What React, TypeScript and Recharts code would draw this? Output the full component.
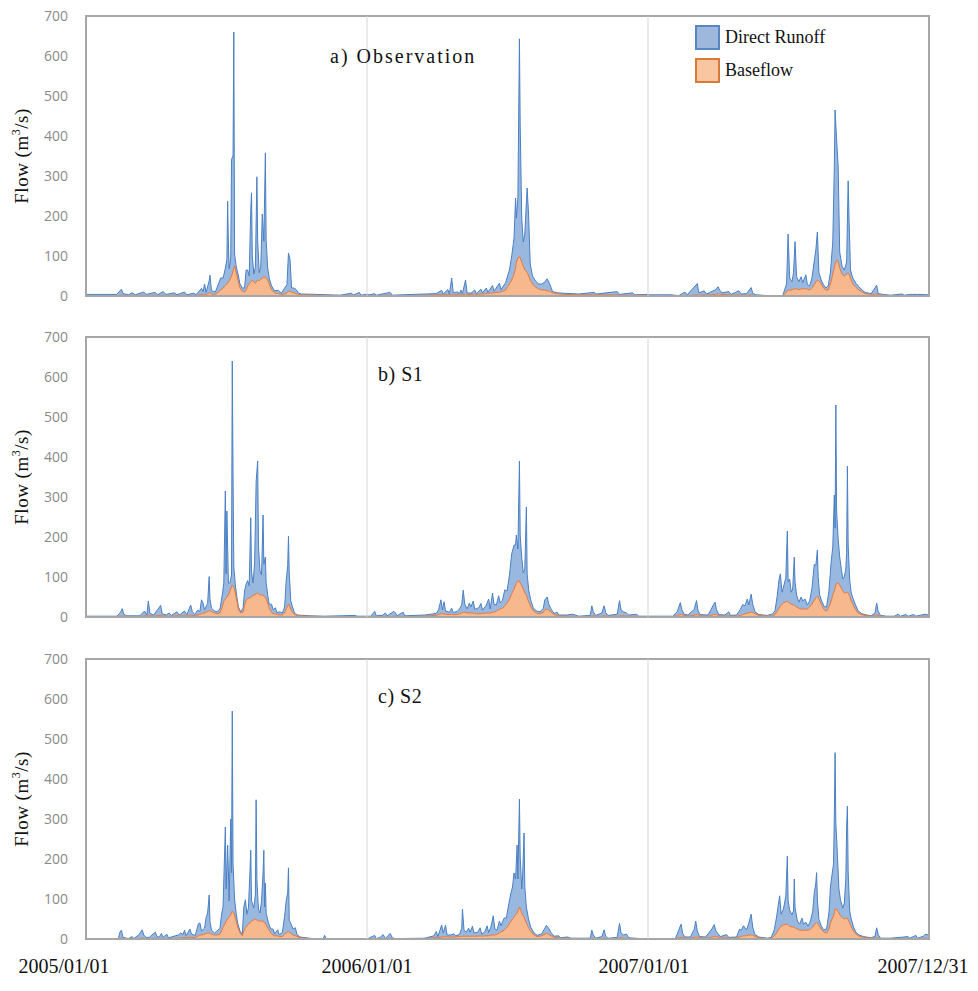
import React from 'react';
import { AreaChart, Area, XAxis, YAxis, ReferenceLine, ReferenceArea, Legend } from 'recharts';

const yearTicks = [0, 365, 730, 1095];
const dateLabels = ['2005/01/01', '2006/01/01', '2007/01/01', '2007/12/31'];
const flowTicks = [0, 100, 200, 300, 400, 500, 600, 700];
const panelTitles = ['a) Observation', 'b) S1', 'c) S2'];

// rows: [day since 2005/01/01, direct runoff, baseflow] in m3/s
const obsRows = [
  [0, 3, 1], [40, 3, 1], [46, 15, 2], [48, 4, 2], [55, 2, 1], [60, 6, 2], [64, 2, 1], [75, 8, 2], [78, 3, 1],
  [90, 7, 2], [93, 2, 1], [100, 9, 2], [104, 3, 1], [115, 6, 2], [118, 2, 1], [128, 8, 2], [131, 2, 1],
  [140, 6, 1], [143, 2, 1], [150, 15, 4], [152, 8, 3], [154, 25, 5], [156, 6, 3], [160, 30, 8], [161, 44, 8],
  [163, 8, 5], [168, 6, 4], [172, 20, 10], [175, 30, 15], [178, 25, 20], [180, 35, 25], [183, 60, 30],
  [184, 205, 32], [185, 90, 35], [186, 30, 38], [188, 50, 45], [189, 290, 50], [191, 290, 62], [192, 590, 70],
  [193, 30, 75], [195, 15, 60], [198, 15, 35], [200, 10, 20], [203, 8, 12], [206, 10, 10], [208, 50, 15],
  [210, 40, 25], [212, 20, 30], [214, 180, 35], [215, 220, 38], [216, 60, 40], [218, 20, 35], [220, 40, 32],
  [222, 260, 38], [223, 100, 40], [225, 20, 38], [227, 30, 42], [229, 160, 45], [231, 90, 47], [233, 310, 48],
  [234, 95, 45], [236, 30, 40], [238, 15, 30], [241, 10, 15], [245, 5, 8], [250, 8, 6], [254, 3, 4],
  [258, 15, 5], [261, 20, 8], [263, 95, 12], [265, 80, 12], [267, 10, 10], [270, 12, 8], [273, 10, 6],
  [276, 3, 4], [280, 2, 3], [300, 2, 2], [330, 1, 1], [345, 5, 2], [347, 1, 1], [355, 8, 1], [357, 1, 1],
  [364, 3, 1],
  [368, 2, 1], [375, 5, 1], [377, 1, 1], [395, 7, 2], [398, 1, 1], [410, 2, 1], [440, 3, 2], [455, 3, 3],
  [462, 10, 4], [464, 2, 3], [470, 12, 4], [472, 2, 3], [475, 40, 5], [477, 5, 4], [483, 6, 4], [485, 2, 4],
  [487, 10, 5], [489, 2, 4], [493, 35, 5], [495, 4, 4], [500, 3, 4], [505, 10, 5], [507, 2, 4], [513, 12, 5],
  [515, 3, 5], [520, 14, 6], [522, 3, 6], [528, 18, 8], [530, 4, 8], [537, 22, 10], [539, 6, 10], [545, 18, 15],
  [550, 35, 30], [553, 60, 40], [556, 90, 55], [558, 175, 70], [559, 110, 85], [561, 150, 95], [563, 545, 98],
  [564, 330, 95], [566, 110, 85], [568, 60, 75], [570, 90, 65], [573, 210, 60], [575, 150, 50], [577, 40, 40],
  [580, 20, 30], [584, 15, 22], [588, 12, 18], [592, 15, 15], [596, 20, 15], [599, 30, 13], [602, 20, 12],
  [606, 3, 8], [612, 2, 6], [620, 3, 4], [640, 2, 3], [660, 6, 3], [663, 2, 3], [690, 8, 3], [693, 2, 2],
  [710, 6, 2], [713, 1, 2], [729, 2, 2],
  [731, 2, 1], [760, 2, 1], [770, 1, 0], [778, 8, 2], [781, 2, 1], [794, 28, 3], [796, 6, 2], [803, 10, 3],
  [806, 3, 2], [818, 12, 4], [821, 18, 5], [823, 10, 5], [826, 4, 4], [835, 8, 3], [838, 2, 2], [848, 10, 3],
  [851, 3, 2], [858, 4, 2], [864, 18, 3], [866, 5, 2], [870, 2, 1], [885, 1, 0], [905, 1, 0], [910, 20, 10],
  [912, 140, 15], [914, 30, 15], [917, 20, 15], [919, 40, 18], [921, 118, 18], [923, 30, 18], [926, 20, 16],
  [929, 30, 18], [931, 15, 18], [935, 35, 18], [937, 12, 17], [940, 10, 15], [943, 25, 20], [946, 60, 28],
  [948, 80, 35], [950, 120, 40], [952, 20, 38], [955, 10, 30], [958, 8, 20], [961, 5, 15], [964, 10, 15],
  [967, 30, 30], [970, 80, 55], [972, 250, 70], [973, 385, 80], [975, 300, 90], [977, 240, 85], [979, 40, 70],
  [982, 20, 55], [985, 15, 50], [988, 30, 55], [990, 230, 58], [991, 150, 55], [993, 20, 45], [996, 15, 30],
  [1000, 10, 22], [1004, 8, 15], [1008, 5, 10], [1012, 3, 6], [1020, 2, 4], [1027, 22, 5], [1029, 3, 3],
  [1035, 2, 2], [1045, 1, 1], [1060, 4, 1], [1063, 1, 1], [1070, 3, 1], [1080, 3, 1], [1094, 2, 1],
];

const s1Rows = [
  [0, 1, 1], [40, 1, 1], [45, 10, 2], [47, 18, 3], [49, 5, 2], [53, 2, 1], [70, 2, 1], [76, 12, 3], [79, 3, 2],
  [81, 36, 4], [83, 6, 3], [88, 3, 2], [97, 25, 4], [99, 5, 3], [104, 3, 2], [108, 8, 2], [111, 2, 2],
  [118, 10, 3], [121, 3, 2], [128, 12, 3], [131, 4, 2], [136, 25, 5], [138, 10, 4], [141, 3, 3], [145, 12, 5],
  [148, 8, 6], [150, 35, 8], [152, 25, 10], [154, 8, 10], [158, 20, 14], [160, 85, 16], [161, 30, 16],
  [163, 8, 14], [167, 5, 10], [170, 5, 8], [174, 10, 10], [177, 30, 25], [179, 45, 40], [181, 270, 45],
  [182, 60, 48], [183, 215, 50], [185, 30, 55], [187, 20, 65], [189, 30, 75], [190, 560, 80], [191, 280, 78],
  [192, 50, 75], [194, 20, 60], [196, 10, 40], [198, 5, 20], [201, 3, 10], [204, 10, 12], [206, 35, 30],
  [208, 40, 42], [210, 45, 46], [212, 30, 48], [214, 200, 48], [215, 60, 52], [217, 30, 55], [219, 80, 55],
  [221, 280, 58], [223, 330, 60], [224, 120, 58], [226, 60, 55], [228, 50, 55], [230, 200, 55], [231, 80, 52],
  [233, 100, 50], [234, 40, 45], [236, 20, 35], [238, 10, 22], [241, 20, 12], [243, 10, 8], [246, 15, 8],
  [248, 5, 6], [252, 8, 5], [255, 5, 5], [258, 15, 10], [260, 70, 20], [262, 100, 28], [263, 170, 32],
  [264, 80, 30], [266, 20, 20], [268, 15, 12], [271, 3, 6], [275, 2, 3], [290, 1, 2], [310, 1, 1],
  [350, 3, 1], [352, 1, 1], [364, 1, 1],
  [370, 1, 1], [375, 12, 2], [377, 2, 1], [385, 3, 1], [389, 8, 2], [391, 2, 1], [400, 12, 2], [402, 8, 2],
  [404, 2, 1], [412, 10, 2], [414, 2, 1], [440, 3, 2], [455, 5, 4], [458, 12, 6], [461, 35, 8], [463, 10, 8],
  [465, 30, 8], [467, 8, 7], [472, 6, 6], [475, 15, 7], [477, 5, 6], [482, 8, 6], [485, 12, 8], [488, 20, 10],
  [490, 55, 12], [492, 20, 12], [495, 10, 10], [498, 25, 10], [500, 15, 10], [503, 30, 10], [505, 10, 9],
  [510, 15, 8], [513, 25, 9], [515, 8, 9], [520, 20, 10], [523, 35, 10], [525, 10, 10], [528, 48, 12],
  [530, 20, 12], [533, 15, 15], [536, 35, 18], [538, 15, 20], [541, 20, 22], [544, 40, 28], [547, 30, 35],
  [550, 60, 45], [553, 100, 58], [556, 110, 70], [558, 100, 80], [559, 120, 85], [561, 80, 90], [563, 300, 90],
  [564, 120, 85], [566, 70, 78], [568, 40, 70], [570, 60, 60], [572, 220, 55], [573, 60, 48], [575, 30, 38],
  [578, 15, 25], [581, 8, 15], [585, 5, 10], [590, 5, 8], [594, 10, 12], [596, 25, 18], [599, 30, 20],
  [601, 15, 18], [604, 8, 12], [608, 3, 6], [612, 8, 4], [614, 2, 3], [625, 3, 2], [632, 5, 2], [640, 1, 1],
  [655, 3, 1], [657, 25, 3], [659, 10, 3], [662, 2, 2], [670, 8, 2], [673, 25, 3], [675, 8, 3], [678, 2, 2],
  [690, 5, 2], [693, 38, 3], [695, 15, 3], [698, 10, 3], [702, 8, 2], [705, 3, 2], [715, 5, 2], [718, 1, 1],
  [729, 1, 1],
  [735, 1, 1], [762, 1, 1], [768, 10, 3], [770, 20, 5], [772, 30, 6], [774, 12, 6], [777, 3, 4], [782, 3, 2],
  [790, 15, 4], [793, 35, 6], [795, 10, 5], [798, 3, 3], [808, 3, 2], [812, 15, 4], [815, 25, 6], [817, 30, 7],
  [819, 12, 6], [822, 3, 3], [830, 3, 2], [835, 10, 3], [837, 2, 2], [845, 3, 2], [850, 15, 4], [853, 25, 6],
  [856, 20, 8], [859, 35, 10], [861, 20, 10], [864, 45, 12], [866, 20, 12], [869, 5, 8], [874, 2, 4],
  [885, 2, 2], [892, 5, 3], [895, 10, 6], [898, 40, 15], [900, 70, 22], [902, 80, 28], [904, 30, 32],
  [906, 40, 35], [909, 60, 38], [911, 175, 40], [912, 50, 38], [914, 60, 35], [916, 30, 32], [918, 40, 30],
  [920, 120, 30], [921, 60, 28], [923, 30, 25], [926, 15, 22], [929, 30, 20], [931, 20, 20], [934, 25, 20],
  [937, 10, 20], [940, 15, 25], [943, 40, 32], [946, 90, 42], [948, 80, 48], [950, 115, 52], [951, 50, 50],
  [953, 15, 40], [956, 10, 28], [959, 8, 18], [962, 10, 15], [965, 40, 25], [968, 100, 40], [970, 120, 55],
  [972, 240, 65], [973, 150, 72], [974, 450, 80], [975, 180, 85], [977, 110, 85], [979, 70, 80], [981, 50, 72],
  [983, 30, 65], [985, 40, 60], [987, 60, 60], [988, 100, 62], [989, 315, 62], [990, 120, 60], [992, 40, 52],
  [994, 20, 40], [997, 15, 28], [1000, 10, 18], [1003, 5, 10], [1007, 3, 6], [1012, 2, 4], [1020, 1, 2],
  [1025, 8, 3], [1027, 30, 5], [1029, 10, 4], [1032, 2, 2], [1040, 1, 1], [1050, 1, 1], [1055, 6, 1],
  [1058, 1, 1], [1065, 5, 1], [1068, 1, 1], [1075, 5, 1], [1078, 1, 1], [1090, 5, 2], [1094, 3, 2],
];

const s2Rows = [
  [0, 0, 0], [42, 0, 0], [44, 15, 2], [46, 20, 2], [48, 3, 1], [55, 1, 0], [60, 5, 1], [62, 1, 0], [68, 8, 1],
  [71, 15, 2], [73, 20, 3], [75, 8, 2], [78, 3, 1], [82, 3, 1], [90, 15, 2], [92, 5, 2], [95, 3, 1],
  [98, 12, 2], [100, 3, 1], [105, 10, 2], [107, 2, 1], [120, 8, 2], [123, 12, 3], [126, 8, 3], [128, 18, 4],
  [130, 5, 3], [135, 20, 5], [137, 8, 4], [142, 5, 4], [146, 30, 8], [148, 30, 10], [150, 10, 10],
  [154, 15, 12], [156, 40, 14], [158, 50, 15], [160, 95, 15], [161, 30, 14], [163, 10, 12], [167, 5, 10],
  [170, 10, 10], [174, 15, 12], [176, 40, 20], [178, 50, 30], [181, 240, 40], [182, 80, 45], [184, 185, 50],
  [186, 40, 55], [188, 240, 60], [189, 100, 65], [190, 500, 70], [191, 120, 68], [193, 40, 60], [195, 20, 45],
  [197, 10, 30], [200, 5, 15], [203, 3, 8], [205, 60, 20], [207, 70, 28], [209, 30, 32], [211, 40, 38],
  [213, 130, 40], [214, 180, 42], [215, 50, 45], [218, 30, 48], [220, 60, 50], [221, 300, 48], [222, 100, 48],
  [224, 30, 45], [226, 20, 45], [228, 50, 45], [230, 120, 45], [231, 180, 42], [232, 40, 40], [233, 100, 40],
  [234, 30, 35], [237, 15, 25], [240, 10, 15], [243, 15, 10], [245, 5, 8], [249, 15, 8], [251, 5, 6],
  [255, 10, 6], [258, 45, 12], [260, 80, 15], [262, 100, 17], [263, 160, 18], [264, 30, 17], [266, 25, 14],
  [269, 15, 10], [272, 20, 8], [274, 5, 6], [278, 2, 3], [290, 1, 1], [300, 0, 0], [308, 0, 0], [310, 8, 1],
  [312, 0, 0], [364, 0, 0],
  [365, 0, 0], [375, 8, 1], [377, 1, 0], [382, 3, 1], [386, 10, 1], [389, 1, 0], [395, 12, 2], [398, 2, 1],
  [402, 1, 0], [440, 1, 1], [452, 5, 3], [455, 15, 4], [457, 3, 3], [462, 30, 5], [464, 10, 5], [467, 28, 6],
  [469, 5, 5], [474, 5, 5], [478, 8, 5], [480, 3, 5], [485, 5, 6], [488, 20, 6], [489, 68, 7], [491, 15, 7],
  [494, 10, 7], [497, 20, 7], [499, 10, 7], [502, 25, 7], [504, 8, 7], [509, 10, 7], [512, 20, 8], [514, 5, 7],
  [518, 10, 8], [521, 25, 8], [523, 8, 8], [526, 20, 10], [529, 48, 10], [531, 15, 10], [534, 10, 12],
  [537, 30, 15], [539, 15, 18], [543, 30, 22], [546, 25, 28], [549, 50, 35], [552, 70, 45], [554, 80, 50],
  [556, 110, 55], [558, 90, 60], [560, 170, 65], [561, 80, 70], [563, 270, 80], [564, 130, 75], [566, 60, 65],
  [567, 90, 60], [569, 210, 55], [570, 80, 50], [572, 40, 40], [575, 20, 28], [578, 10, 18], [582, 5, 10],
  [586, 3, 6], [592, 5, 8], [596, 15, 12], [598, 20, 14], [601, 15, 12], [604, 8, 8], [608, 3, 4], [614, 5, 3],
  [616, 1, 2], [625, 3, 2], [630, 1, 1], [655, 1, 1], [657, 20, 2], [659, 8, 2], [662, 1, 1], [670, 5, 1],
  [673, 20, 3], [675, 5, 2], [678, 1, 1], [690, 3, 1], [693, 36, 3], [695, 12, 3], [698, 8, 2], [702, 10, 2],
  [705, 2, 1], [729, 0, 0],
  [735, 0, 0], [765, 0, 0], [768, 10, 2], [770, 20, 3], [773, 33, 4], [775, 10, 4], [778, 3, 2], [785, 3, 2],
  [790, 20, 4], [792, 40, 5], [794, 15, 5], [797, 3, 3], [805, 3, 2], [810, 15, 3], [813, 20, 5], [816, 30, 6],
  [818, 15, 6], [821, 8, 5], [824, 3, 3], [832, 8, 3], [835, 2, 2], [845, 3, 2], [849, 20, 5], [851, 15, 6],
  [854, 25, 8], [858, 15, 8], [861, 30, 10], [864, 52, 10], [866, 20, 10], [869, 5, 6], [874, 2, 3],
  [885, 1, 1], [890, 2, 2], [894, 15, 8], [897, 40, 15], [899, 60, 22], [901, 80, 28], [903, 30, 32],
  [906, 40, 35], [909, 70, 37], [911, 170, 37], [912, 60, 36], [914, 40, 32], [917, 30, 30], [919, 40, 30],
  [920, 120, 30], [921, 50, 28], [924, 20, 25], [927, 15, 22], [930, 30, 22], [932, 15, 22], [935, 20, 22],
  [938, 10, 22], [941, 20, 25], [944, 40, 30], [946, 80, 36], [948, 100, 40], [949, 125, 41], [950, 60, 40],
  [952, 15, 34], [955, 8, 25], [958, 5, 18], [962, 10, 15], [965, 40, 25], [967, 90, 40], [969, 110, 50],
  [971, 130, 58], [972, 240, 65], [973, 390, 76], [974, 215, 75], [976, 140, 72], [978, 60, 65], [980, 40, 58],
  [983, 25, 52], [985, 40, 50], [987, 100, 52], [988, 230, 52], [989, 280, 52], [990, 120, 48], [992, 30, 40],
  [994, 20, 30], [997, 10, 20], [1000, 5, 12], [1004, 3, 7], [1010, 2, 4], [1020, 1, 2], [1025, 5, 2],
  [1027, 25, 3], [1029, 8, 3], [1032, 1, 1], [1045, 1, 1], [1068, 5, 1], [1070, 1, 1], [1078, 8, 1],
  [1080, 1, 1], [1088, 5, 2], [1090, 10, 2], [1094, 8, 2],
];

const RUNOFF_FILL = '#7fa6d8';
const RUNOFF_STROKE = '#4a80c4';
const BASE_FILL = '#f6b88c';
const BASE_STROKE = '#e8793a';
const SERIF = '"Liberation Serif", "Times New Roman", serif';

function FlowLabel() {
  const cx = 24;
  const cy = 156;
  return (
    <text x={cx} y={cy} transform={`rotate(-90, ${cx}, ${cy})`} textAnchor="middle" dominantBaseline="middle"
      fontFamily={SERIF} fontSize={19} fill="#111" letterSpacing={0.5}>
      Flow (m<tspan dy={-7} fontSize={12}>3</tspan><tspan dy={7}>/s)</tspan>
    </text>
  );
}

function DateTick(props: any) {
  const { x, y, payload } = props;
  const i = yearTicks.indexOf(payload.value);
  const shift = i === 0 ? -22 : i === 3 ? -6 : i === 2 ? -4 : 0;
  return (
    <text x={x + shift} y={y} dy={14} textAnchor="middle" fontFamily={SERIF} fontSize={20} fill="#111">
      {dateLabels[i]}
    </text>
  );
}

function FlowLegend() {
  const items = [
    { name: 'Direct Runoff', fill: '#9db7dd', stroke: '#5a86c0' },
    { name: 'Baseflow', fill: '#f8c6a0', stroke: '#d9793a' },
  ];
  return (
    <div style={{ fontFamily: SERIF, fontSize: 18, color: '#111' }}>
      {items.map((it) => (
        <div key={it.name} style={{ display: 'flex', alignItems: 'center', height: 26, marginBottom: 7 }}>
          <div style={{ width: 21, height: 21, background: it.fill, border: `2px solid ${it.stroke}`, marginRight: 5 }} />
          <span>{it.name}</span>
        </div>
      ))}
    </div>
  );
}

function FlowPanel({ rows, title, top, showDates, showLegend }: any) {
  const data = rows.map(([day, runoff, base]: number[]) => ({ day, total: runoff + base, base }));
  const height = showDates ? 346 : 306;
  const long = title.length > 8;
  return (
    <div style={{ position: 'absolute', left: 0, top, width: 978, height }}>
      <AreaChart width={978} height={height} data={data}
        margin={{ top: 16, right: 49, bottom: showDates ? 0 : 10, left: 26 }}>
        <XAxis dataKey="day" type="number" domain={[0, 1095]} ticks={yearTicks} interval={0}
          hide={!showDates} height={50} axisLine={false} tickLine={false} tickMargin={14} tick={<DateTick />} />
        <YAxis domain={[0, 700]} ticks={flowTicks} width={60} axisLine={false} tickLine={false} tickMargin={12}
          tick={{ fill: '#8a8a8a', fontSize: 14, fontFamily: '"Open Sans", sans-serif' }}
          label={{ content: <FlowLabel /> }} />
        <ReferenceLine x={365} stroke="#d4d4d4" strokeWidth={1} />
        <ReferenceLine x={730} stroke="#d4d4d4" strokeWidth={1} />
        <Area type="linear" dataKey="total" name="Direct Runoff" fill={RUNOFF_FILL} fillOpacity={0.8}
          stroke={RUNOFF_STROKE} strokeWidth={1} dot={false} isAnimationActive={false} />
        <Area type="linear" dataKey="base" name="Baseflow" fill={BASE_FILL} fillOpacity={1}
          stroke={BASE_STROKE} strokeWidth={1} dot={false} isAnimationActive={false} />
        <ReferenceArea x1={0} x2={1095} y1={0} y2={700} fill="none" stroke="#a6a6a6" strokeWidth={2} />
        {showLegend && (
          <Legend layout="vertical" align="center" verticalAlign="middle" content={<FlowLegend />}
            wrapperStyle={{ left: 695, top: 24, width: 170, height: 66 }} />
        )}
      </AreaChart>
      <div style={{ position: 'absolute', left: long ? 330 : 378, top: 16 + (long ? 29 : 26),
        fontFamily: SERIF, fontSize: 20, color: '#111', letterSpacing: long ? 2 : 0.5, whiteSpace: 'nowrap' }}>
        {title}
      </div>
    </div>
  );
}

export default function App() {
  return (
    <div style={{ position: 'absolute', left: 0, top: 0, width: 978, height: 991, background: '#fff' }}>
      <FlowPanel rows={obsRows} title={panelTitles[0]} top={0} showLegend />
      <FlowPanel rows={s1Rows} title={panelTitles[1]} top={321} />
      <FlowPanel rows={s2Rows} title={panelTitles[2]} top={643} showDates />
    </div>
  );
}
